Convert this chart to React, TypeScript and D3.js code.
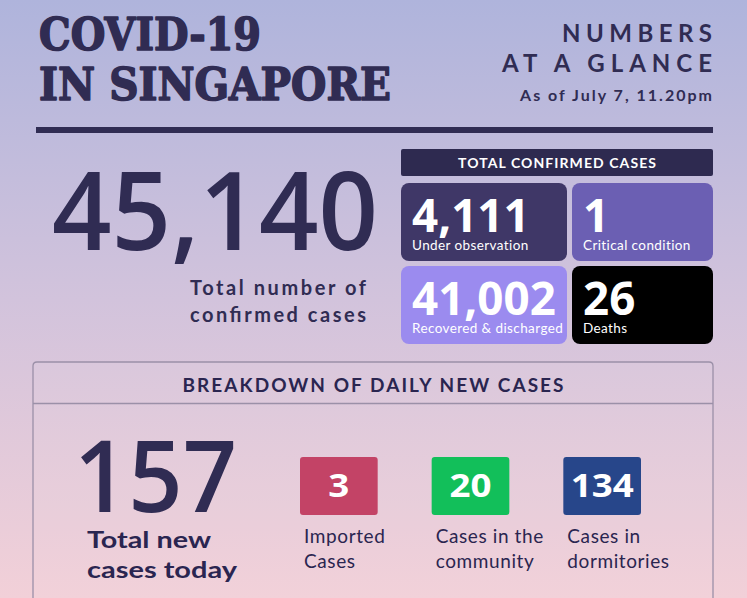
import React from "react";
import * as d3 from "d3";

const titleLines = ["COVID-19", "IN SINGAPORE"];
const headLines = ["NUMBERS", "AT A GLANCE"];
const asOf = "As of July 7, 11.20pm";
const totalCases = 45140;
const totalLabel = ["Total number of", "confirmed cases"];
const panelTitle = "TOTAL CONFIRMED CASES";
const cardValues = [4111, 1, 41002, 26];
const cardLabels = ["Under observation", "Critical condition", "Recovered & discharged", "Deaths"];
const cardColors = ["#3f3767", "#6b5fb3", "#9b8bef", "#000000"];
const breakdownTitle = "BREAKDOWN OF DAILY NEW CASES";
const newCasesTotal = 157;
const newCasesLabel = ["Total new", "cases today"];
const dailyCategories = ["Imported", "Community", "Dormitories"];
const dailyValues = [3, 20, 134];
const dailyLabels = [["Imported", "Cases"], ["Cases in the", "community"], ["Cases in", "dormitories"]];
const dailyColors = ["#c34366", "#12bf5a", "#27468a"];

const W = 747;
const H = 598;
const NAVY = "#302c53";
const fmt = d3.format(",");
const sans = "'Liberation Sans', Arial, sans-serif";
const rounded = "'Open Sans', 'Noto Sans', sans-serif";
const round = "Lato, 'Open Sans', sans-serif";

export default function App() {
  const colX = d3.scaleOrdinal<number, number>().domain([0, 1]).range([401, 572]);
  const colW = d3.scaleOrdinal<number, number>().domain([0, 1]).range([166, 141]);
  const rowY = d3.scaleBand<number>().domain([0, 1]).range([183, 344]).paddingInner(0.06);

  const bx = d3.scaleBand<string>().domain(dailyCategories).range([300, 641]).paddingInner(0.41);

  const digitW = (v: number) => {
    const s = fmt(v);
    let w = 0;
    for (const c of s) w += c === "," ? 0.28 : 0.556;
    return w;
  };

  return (
    <svg width={W} height={H} style={{ position: "absolute", left: 0, top: 0, display: "block" }}>
      <defs>
        <linearGradient id="bg" x1="0" y1="0" x2="0" y2="1">
          <stop offset="0" stopColor="#afb4dc" />
          <stop offset="0.5" stopColor="#d2c3dc" />
          <stop offset="1" stopColor="#f2d0d8" />
        </linearGradient>
      </defs>
      <rect x={0} y={0} width={W} height={H} fill="url(#bg)" />

      {titleLines.map((t, i) => (
        <text key={t} x={39} y={50 + i * 50} fontFamily="'DejaVu Serif', serif" fontWeight={700}
          fontSize={44} fill={NAVY} stroke={NAVY} strokeWidth={1.6} strokeLinejoin="round"
          textLength={i === 0 ? 222 : 352} lengthAdjust="spacingAndGlyphs">{t}</text>
      ))}

      {headLines.map((t, i) => (
        <text key={t} x={712} y={42 + i * 30} textAnchor="end" fontFamily={round} fontWeight={700}
          fontSize={24} fill={NAVY} textLength={150 + i * 60} lengthAdjust="spacing">{t}</text>
      ))}
      <text x={712} y={101} textAnchor="end" fontFamily={round} fontWeight={700} fontSize={16}
        fill={NAVY} textLength={192} lengthAdjust="spacing">{asOf}</text>

      <rect x={36} y={127} width={677} height={6} fill={NAVY} />

      <text x={52} y={250} fontFamily={rounded} fontWeight={600} fontSize={108} fill={NAVY}
        textLength={326} lengthAdjust="spacingAndGlyphs">{fmt(totalCases)}</text>
      {totalLabel.map((t, i) => (
        <text key={t} x={366} y={295 + i * 27} textAnchor="end" fontFamily={round} fontWeight={700}
          fontSize={20} fill={NAVY} textLength={176} lengthAdjust="spacing">{t}</text>
      ))}

      <rect x={401} y={149} width={312} height={27} rx={2} fill="#2e2a50" />
      <text x={557} y={168} textAnchor="middle" fontFamily={round} fontWeight={700} fontSize={14}
        fill="#fff" textLength={198} lengthAdjust="spacing">{panelTitle}</text>

      {cardValues.map((v, i) => {
        const c = i % 2;
        const r = Math.floor(i / 2);
        const x = colX(c);
        const y = rowY(r)!;
        const bw = rowY.bandwidth();
        return (
          <g key={i}>
            <rect x={x} y={y} width={colW(c)} height={bw} rx={8} fill={cardColors[i]} />
            <text x={x + 11} y={y + 49} fontFamily={rounded} fontWeight={700} fontSize={46} fill="#fff"
              textLength={digitW(v) * 47} lengthAdjust="spacingAndGlyphs">{fmt(v)}</text>
            <text x={x + 11} y={y + 67} fontFamily={round} fontSize={13.5} fill="#fff"
              letterSpacing={0.4}>{cardLabels[i]}</text>
          </g>
        );
      })}

      <path d={`M33,598 V366 Q33,362 37,362 H709 Q713,362 713,366 V598`} fill="rgba(255,255,255,0.04)"
        stroke="#9b90a8" strokeWidth={1.3} />
      <line x1={33} x2={713} y1={403.5} y2={403.5} stroke="#9b90a8" strokeWidth={1.3} />
      <text x={373} y={392} textAnchor="middle" fontFamily={round} fontWeight={700} fontSize={19}
        fill="#2a2550" textLength={381} lengthAdjust="spacing">{breakdownTitle}</text>

      <text x={74} y={512} fontFamily={rounded} fontWeight={600} fontSize={100} fill={NAVY}
        textLength={163} lengthAdjust="spacingAndGlyphs">{newCasesTotal}</text>
      {newCasesLabel.map((t, i) => (
        <text key={t} x={87} y={548 + i * 30} fontFamily={round} fontWeight={700} fontSize={23}
          fill="#2a2550" textLength={i === 0 ? 124 : 150} lengthAdjust="spacingAndGlyphs">{t}</text>
      ))}

      {dailyCategories.map((c, i) => {
        const x = bx(c)!;
        const w = bx.bandwidth();
        const s = String(dailyValues[i]);
        return (
          <g key={c}>
            <rect x={x} y={457} width={w} height={58} rx={3} fill={dailyColors[i]} />
            <text x={x + w / 2} y={497} textAnchor="middle" fontFamily={rounded} fontWeight={700}
              fontSize={33} fill="#fff" textLength={s.length * 21} lengthAdjust="spacingAndGlyphs">{s}</text>
            {dailyLabels[i].map((t, j) => (
              <text key={t} x={x + 4} y={543 + j * 25} fontFamily={round} fontSize={19}
                fill="#2a2550" letterSpacing={0.6}>{t}</text>
            ))}
          </g>
        );
      })}
    </svg>
  );
}
